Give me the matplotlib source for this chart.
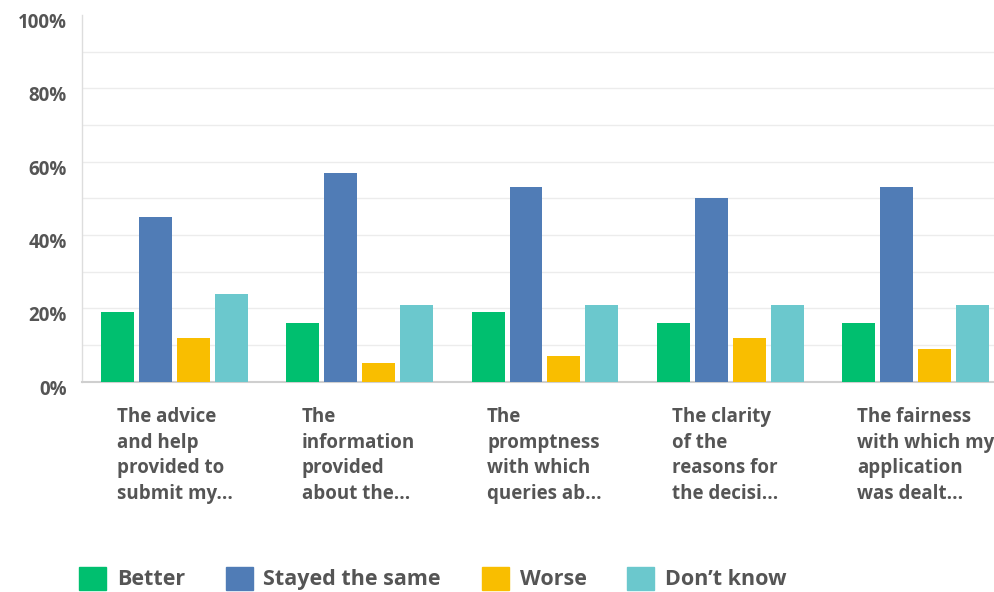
import matplotlib
matplotlib.use("Agg")
import matplotlib.pyplot as plt
import matplotlib.transforms as mtransforms
import numpy as np
from matplotlib.patches import Patch

# survey answers, percent of respondents
categories = [
    "The advice\nand help\nprovided to\nsubmit my...",
    "The\ninformation\nprovided\nabout the...",
    "The\npromptness\nwith which\nqueries ab...",
    "The clarity\nof the\nreasons for\nthe decisi...",
    "The fairness\nwith which my\napplication\nwas dealt...",
]
series_names = ["Better", "Stayed the same", "Worse", "Don\u2019t know"]
better = [19, 16, 19, 16, 16]
stayed_same = [45, 57, 53, 50, 53]
worse = [12, 5, 7, 12, 9]
dont_know = [24, 21, 21, 21, 21]
y_ticks = [0, 20, 40, 60, 80, 100]
y_tick_labels = ["0%", "20%", "40%", "60%", "80%", "100%"]

colors = ["#00BF6F", "#507CB6", "#F9BE00", "#6BC8CD"]
text_col = "#555555"

plt.rcParams['font.family'] = ['Open Sans', 'DejaVu Sans']

fig = plt.figure(figsize=(9.95, 5.92), dpi=100)
ax = fig.add_axes([0.0824, 0.3552, 0.9176, 0.6195])

x = np.arange(len(categories))
bar_w = 0.178
step = 0.205
for i, vals in enumerate([better, stayed_same, worse, dont_know]):
    ax.bar(x + (i - 1.5) * step, vals, width=bar_w, color=colors[i],
           zorder=3, label=series_names[i])

ax.set_xlim(-0.5, 4.43)
ax.set_ylim(0, 100)

# light grid every 10%
for g in range(10, 100, 10):
    ax.axhline(g, color="#ececec", lw=1, zorder=1)

ax.set_yticks(y_ticks)
ax.set_yticklabels(y_tick_labels)
ax.tick_params(axis="y", length=0, pad=11)
# labels sit a little below their value in the original
offset = mtransforms.ScaledTranslation(0, -8 / 100, fig.dpi_scale_trans)
for lab in ax.get_yticklabels():
    lab.set_fontweight("bold")
    lab.set_color(text_col)
    lab.set_fontsize(13.5)
    lab.set_va("center")
    lab.set_transform(lab.get_transform() + offset)

ax.set_xticks([])
for s in ["top", "right"]:
    ax.spines[s].set_visible(False)
ax.spines["left"].set_color("#dddddd")
ax.spines["left"].set_linewidth(1)
ax.spines["bottom"].set_color("#cfcfcf")
ax.spines["bottom"].set_linewidth(1.5)

trans = mtransforms.blended_transform_factory(ax.transData, ax.transAxes)
for i, cat in enumerate(categories):
    ax.text(i - 0.5 + 0.187, -0.07, cat, transform=trans, ha="left", va="top",
            fontsize=13.5, fontweight="bold", color=text_col, linespacing=1.37,
            clip_on=False)

handles = [Patch(facecolor=c, edgecolor=c) for c in colors]
fig.legend(handles, series_names, loc="lower left", bbox_to_anchor=(0.06, -0.03),
           ncol=4, frameon=False, handlelength=1.25, handleheight=1.25,
           handletextpad=0.5, columnspacing=1.9,
           prop={"size": 15.5, "weight": "bold"}, labelcolor=text_col)

fig.savefig("out.png", dpi=100)
